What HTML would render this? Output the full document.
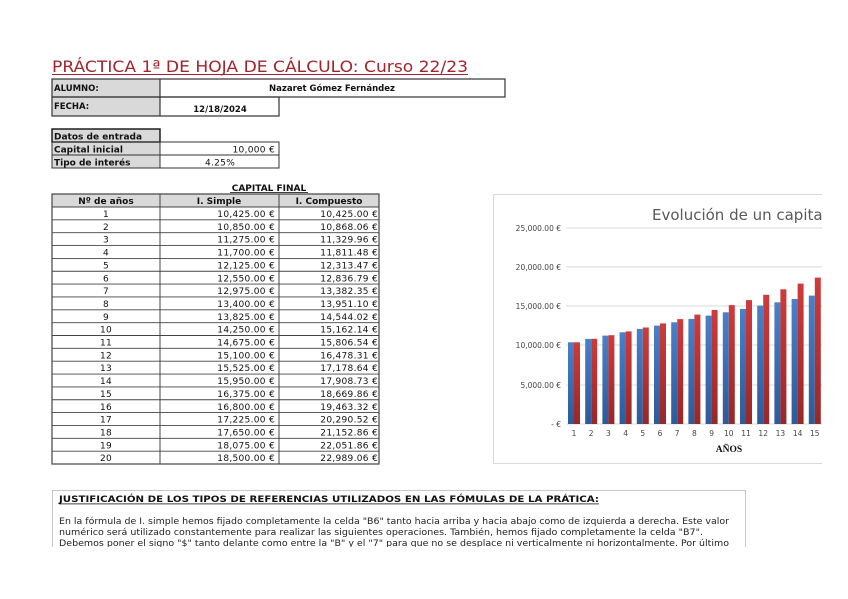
<!DOCTYPE html>
<html><head><meta charset="utf-8"><style>
html,body{margin:0;padding:0;background:#fff;width:848px;height:599px;overflow:hidden}
svg{display:block}
text{font-family:"DejaVu Sans","Liberation Sans",sans-serif}
.t{font-size:9px;font-weight:bold;fill:#111}
.n{font-size:9px;fill:#111;letter-spacing:0.3px}
.ax{font-size:7.5px;fill:#444}
</style></head><body>
<svg width="848" height="599" viewBox="0 0 848 599" xmlns="http://www.w3.org/2000/svg">
<defs>
<linearGradient id="gb" x1="0" y1="0" x2="0" y2="1"><stop offset="0" stop-color="#4a80c8"/><stop offset="1" stop-color="#2d5a9a"/></linearGradient>
<linearGradient id="gr" x1="0" y1="0" x2="0" y2="1"><stop offset="0" stop-color="#d03a3a"/><stop offset="1" stop-color="#962828"/></linearGradient>
<clipPath id="cc"><rect x="493" y="194" width="329" height="270"/></clipPath>
<clipPath id="tc"><rect x="52" y="490" width="694" height="57"/></clipPath>
</defs>

<text x="52" y="72" textLength="416" lengthAdjust="spacingAndGlyphs" style="font-size:16px;fill:#a3242c">PRÁCTICA 1ª DE HOJA DE CÁLCULO: Curso 22/23</text>
<rect x="52" y="74" width="416" height="1" fill="#a3242c"/>

<rect x="52" y="79" width="108" height="37" fill="#d9d9d9"/>
<rect x="52" y="79" width="453" height="18" fill="none" stroke="#333" stroke-width="1.2"/>
<line x1="160" y1="79" x2="160" y2="116" stroke="#333" stroke-width="1.2"/>
<rect x="52" y="97" width="227" height="19" fill="none" stroke="#333" stroke-width="1.2"/>
<text x="54" y="91" class="t" style="font-size:8.5px">ALUMNO:</text>
<text x="332" y="91" class="t" text-anchor="middle" style="font-size:8.5px">Nazaret Gómez Fernández</text>
<text x="54" y="109" class="t" style="font-size:8.5px">FECHA:</text>
<text x="220" y="112" class="t" text-anchor="middle" style="font-size:8.5px">12/18/2024</text>

<rect x="52" y="129" width="108" height="39" fill="#d9d9d9"/>
<rect x="52" y="129" width="108" height="13" fill="none" stroke="#111" stroke-width="1.4"/>
<rect x="52" y="142" width="227" height="13" fill="none" stroke="#333" stroke-width="1"/>
<rect x="52" y="155" width="227" height="13" fill="none" stroke="#333" stroke-width="1"/>
<line x1="160" y1="142" x2="160" y2="168" stroke="#333"/>
<text x="54" y="139.5" class="t">Datos de entrada</text>
<text x="54" y="152.5" class="t">Capital inicial</text>
<text x="54" y="165.5" class="t">Tipo de interés</text>
<text x="275" y="152.5" class="n" text-anchor="end">10,000 €</text>
<text x="220" y="165.5" class="n" text-anchor="middle">4.25%</text>

<text x="269" y="191" class="t" text-anchor="middle">CAPITAL FINAL</text>
<rect x="230" y="192" width="78" height="0.8" fill="#111"/>
<rect x="52" y="194" width="327" height="13" fill="#d9d9d9" stroke="#333"/>
<text x="106" y="204" class="t" text-anchor="middle">Nº de años</text>
<text x="219" y="204" class="t" text-anchor="middle">I. Simple</text>
<text x="329" y="204" class="t" text-anchor="middle">I. Compuesto</text>
<rect x="52" y="194" width="327" height="270" fill="none" stroke="#444" stroke-width="1.2"/>
<line x1="160" y1="194" x2="160" y2="464" stroke="#444"/>
<line x1="279" y1="194" x2="279" y2="464" stroke="#444"/>
<g stroke="#444" stroke-width="0.9">
<line x1="52" y1="207" x2="379" y2="207"/><line x1="52" y1="219.85" x2="379" y2="219.85"/><line x1="52" y1="232.7" x2="379" y2="232.7"/><line x1="52" y1="245.55" x2="379" y2="245.55"/><line x1="52" y1="258.4" x2="379" y2="258.4"/><line x1="52" y1="271.25" x2="379" y2="271.25"/><line x1="52" y1="284.1" x2="379" y2="284.1"/><line x1="52" y1="296.95" x2="379" y2="296.95"/><line x1="52" y1="309.8" x2="379" y2="309.8"/><line x1="52" y1="322.65" x2="379" y2="322.65"/><line x1="52" y1="335.5" x2="379" y2="335.5"/><line x1="52" y1="348.35" x2="379" y2="348.35"/><line x1="52" y1="361.2" x2="379" y2="361.2"/><line x1="52" y1="374.05" x2="379" y2="374.05"/><line x1="52" y1="386.9" x2="379" y2="386.9"/><line x1="52" y1="399.75" x2="379" y2="399.75"/><line x1="52" y1="412.6" x2="379" y2="412.6"/><line x1="52" y1="425.45" x2="379" y2="425.45"/><line x1="52" y1="438.3" x2="379" y2="438.3"/><line x1="52" y1="451.15" x2="379" y2="451.15"/>
</g>
<g class="n">
<text x="106" y="217" text-anchor="middle" class="n">1</text><text x="275" y="217" text-anchor="end" class="n">10,425.00 €</text><text x="378" y="217" text-anchor="end" class="n">10,425.00 €</text>
<text x="106" y="229.85" text-anchor="middle" class="n">2</text><text x="275" y="229.85" text-anchor="end" class="n">10,850.00 €</text><text x="378" y="229.85" text-anchor="end" class="n">10,868.06 €</text>
<text x="106" y="242.7" text-anchor="middle" class="n">3</text><text x="275" y="242.7" text-anchor="end" class="n">11,275.00 €</text><text x="378" y="242.7" text-anchor="end" class="n">11,329.96 €</text>
<text x="106" y="255.55" text-anchor="middle" class="n">4</text><text x="275" y="255.55" text-anchor="end" class="n">11,700.00 €</text><text x="378" y="255.55" text-anchor="end" class="n">11,811.48 €</text>
<text x="106" y="268.4" text-anchor="middle" class="n">5</text><text x="275" y="268.4" text-anchor="end" class="n">12,125.00 €</text><text x="378" y="268.4" text-anchor="end" class="n">12,313.47 €</text>
<text x="106" y="281.25" text-anchor="middle" class="n">6</text><text x="275" y="281.25" text-anchor="end" class="n">12,550.00 €</text><text x="378" y="281.25" text-anchor="end" class="n">12,836.79 €</text>
<text x="106" y="294.1" text-anchor="middle" class="n">7</text><text x="275" y="294.1" text-anchor="end" class="n">12,975.00 €</text><text x="378" y="294.1" text-anchor="end" class="n">13,382.35 €</text>
<text x="106" y="306.95" text-anchor="middle" class="n">8</text><text x="275" y="306.95" text-anchor="end" class="n">13,400.00 €</text><text x="378" y="306.95" text-anchor="end" class="n">13,951.10 €</text>
<text x="106" y="319.8" text-anchor="middle" class="n">9</text><text x="275" y="319.8" text-anchor="end" class="n">13,825.00 €</text><text x="378" y="319.8" text-anchor="end" class="n">14,544.02 €</text>
<text x="106" y="332.65" text-anchor="middle" class="n">10</text><text x="275" y="332.65" text-anchor="end" class="n">14,250.00 €</text><text x="378" y="332.65" text-anchor="end" class="n">15,162.14 €</text>
<text x="106" y="345.5" text-anchor="middle" class="n">11</text><text x="275" y="345.5" text-anchor="end" class="n">14,675.00 €</text><text x="378" y="345.5" text-anchor="end" class="n">15,806.54 €</text>
<text x="106" y="358.35" text-anchor="middle" class="n">12</text><text x="275" y="358.35" text-anchor="end" class="n">15,100.00 €</text><text x="378" y="358.35" text-anchor="end" class="n">16,478.31 €</text>
<text x="106" y="371.2" text-anchor="middle" class="n">13</text><text x="275" y="371.2" text-anchor="end" class="n">15,525.00 €</text><text x="378" y="371.2" text-anchor="end" class="n">17,178.64 €</text>
<text x="106" y="384.05" text-anchor="middle" class="n">14</text><text x="275" y="384.05" text-anchor="end" class="n">15,950.00 €</text><text x="378" y="384.05" text-anchor="end" class="n">17,908.73 €</text>
<text x="106" y="396.9" text-anchor="middle" class="n">15</text><text x="275" y="396.9" text-anchor="end" class="n">16,375.00 €</text><text x="378" y="396.9" text-anchor="end" class="n">18,669.86 €</text>
<text x="106" y="409.75" text-anchor="middle" class="n">16</text><text x="275" y="409.75" text-anchor="end" class="n">16,800.00 €</text><text x="378" y="409.75" text-anchor="end" class="n">19,463.32 €</text>
<text x="106" y="422.6" text-anchor="middle" class="n">17</text><text x="275" y="422.6" text-anchor="end" class="n">17,225.00 €</text><text x="378" y="422.6" text-anchor="end" class="n">20,290.52 €</text>
<text x="106" y="435.45" text-anchor="middle" class="n">18</text><text x="275" y="435.45" text-anchor="end" class="n">17,650.00 €</text><text x="378" y="435.45" text-anchor="end" class="n">21,152.86 €</text>
<text x="106" y="448.3" text-anchor="middle" class="n">19</text><text x="275" y="448.3" text-anchor="end" class="n">18,075.00 €</text><text x="378" y="448.3" text-anchor="end" class="n">22,051.86 €</text>
<text x="106" y="461.15" text-anchor="middle" class="n">20</text><text x="275" y="461.15" text-anchor="end" class="n">18,500.00 €</text><text x="378" y="461.15" text-anchor="end" class="n">22,989.06 €</text>
</g>

<g clip-path="url(#cc)">
<rect x="493.5" y="194.5" width="340" height="269" fill="#fff" stroke="#d9d9d9"/>
<text x="652" y="220" style="font-size:15px;fill:#595959">Evolución de un capital</text>
<g stroke="#d9d9d9" stroke-width="1">
<line x1="566" y1="228" x2="830" y2="228"/><line x1="566" y1="267" x2="830" y2="267"/><line x1="566" y1="306" x2="830" y2="306"/><line x1="566" y1="345" x2="830" y2="345"/><line x1="566" y1="385" x2="830" y2="385"/><line x1="566" y1="424" x2="830" y2="424"/>
</g>
<g fill="url(#gb)">
<rect x="568" y="342.3" width="6" height="81.7"/><rect x="585.2" y="338.9" width="6" height="85.1"/><rect x="602.4" y="335.6" width="6" height="88.4"/><rect x="619.6" y="332.3" width="6" height="91.7"/><rect x="636.8" y="328.9" width="6" height="95.1"/><rect x="654" y="325.6" width="6" height="98.4"/><rect x="671.2" y="322.3" width="6" height="101.7"/><rect x="688.4" y="318.9" width="6" height="105.1"/><rect x="705.6" y="315.6" width="6" height="108.4"/><rect x="722.8" y="312.3" width="6" height="111.7"/><rect x="740" y="308.9" width="6" height="115.1"/><rect x="757.2" y="305.6" width="6" height="118.4"/><rect x="774.4" y="302.3" width="6" height="121.7"/><rect x="791.6" y="299" width="6" height="125"/><rect x="808.8" y="295.6" width="6" height="128.4"/>
</g>
<g fill="url(#gr)">
<rect x="574" y="342.3" width="6" height="81.7"/><rect x="591.2" y="338.8" width="6" height="85.2"/><rect x="608.4" y="335.2" width="6" height="88.8"/><rect x="625.6" y="331.4" width="6" height="92.6"/><rect x="642.8" y="327.5" width="6" height="96.5"/><rect x="660" y="323.4" width="6" height="100.6"/><rect x="677.2" y="319.1" width="6" height="104.9"/><rect x="694.4" y="314.6" width="6" height="109.4"/><rect x="711.6" y="310" width="6" height="114"/><rect x="728.8" y="305.1" width="6" height="118.9"/><rect x="746" y="300.1" width="6" height="123.9"/><rect x="763.2" y="294.8" width="6" height="129.2"/><rect x="780.4" y="289.3" width="6" height="134.7"/><rect x="797.6" y="283.6" width="6" height="140.4"/><rect x="814.8" y="277.6" width="6" height="146.4"/>
</g>
<g class="ax" text-anchor="end">
<text x="561" y="231" class="ax">25,000.00 €</text><text x="561" y="270" class="ax">20,000.00 €</text><text x="561" y="309" class="ax">15,000.00 €</text><text x="561" y="348" class="ax">10,000.00 €</text><text x="561" y="388" class="ax">5,000.00 €</text><text x="561" y="427" class="ax">-  €</text>
</g>
<g class="ax" text-anchor="middle">
<text x="574" y="436" class="ax">1</text><text x="591.2" y="436" class="ax">2</text><text x="608.4" y="436" class="ax">3</text><text x="625.6" y="436" class="ax">4</text><text x="642.8" y="436" class="ax">5</text><text x="660" y="436" class="ax">6</text><text x="677.2" y="436" class="ax">7</text><text x="694.4" y="436" class="ax">8</text><text x="711.6" y="436" class="ax">9</text><text x="728.8" y="436" class="ax">10</text><text x="746" y="436" class="ax">11</text><text x="763.2" y="436" class="ax">12</text><text x="780.4" y="436" class="ax">13</text><text x="797.6" y="436" class="ax">14</text><text x="814.8" y="436" class="ax">15</text>
</g>
<text x="729" y="452" text-anchor="middle" style="font-family:'Liberation Serif',serif;font-weight:bold;font-size:9.5px;fill:#111">AÑOS</text>
</g>

<g clip-path="url(#tc)">
<rect x="52.5" y="490.5" width="693" height="80" fill="#fff" stroke="#c8c8c8"/>
<text x="59" y="502" textLength="540" lengthAdjust="spacingAndGlyphs" style="font-size:9px;font-weight:bold;fill:#111">JUSTIFICACIÓN DE LOS TIPOS DE REFERENCIAS UTILIZADOS EN LAS FÓMULAS DE LA PRÁTICA:</text>
<rect x="59" y="503.5" width="540" height="0.8" fill="#111"/>
<g style="font-size:8.6px;fill:#222">
<text x="59" y="524" textLength="670" lengthAdjust="spacingAndGlyphs">En la fórmula de I. simple hemos fijado completamente la celda "B6" tanto hacia arriba y hacia abajo como de izquierda a derecha. Este valor</text>
<text x="59" y="535" textLength="644" lengthAdjust="spacingAndGlyphs">numérico será utilizado constantemente para realizar las siguientes operaciones. También, hemos fijado completamente la celda "B7".</text>
<text x="59" y="546" textLength="670" lengthAdjust="spacingAndGlyphs">Debemos poner el signo "$" tanto delante como entre la "B" y el "7" para que no se desplace ni verticalmente ni horizontalmente.  Por último</text>
</g>
</g>
</svg>
</body></html>
